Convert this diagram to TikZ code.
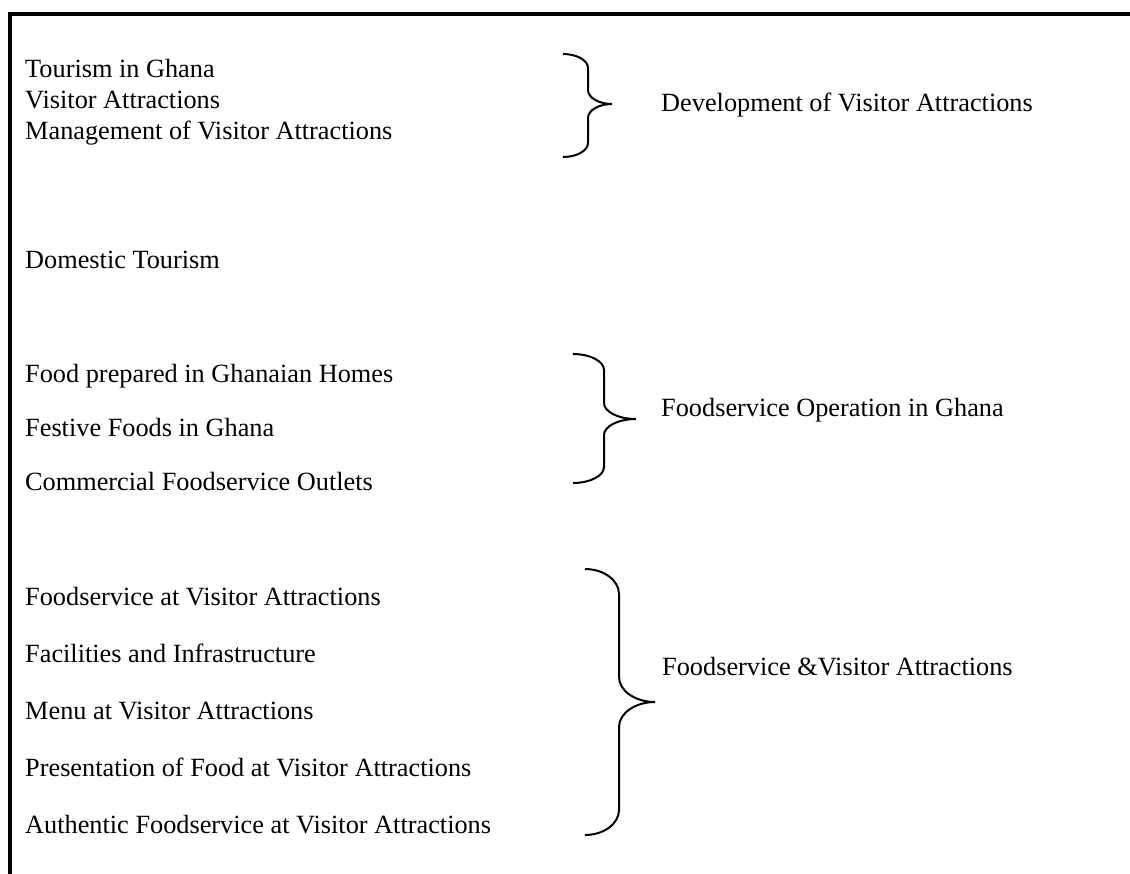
\documentclass[tikz,border=0pt]{standalone}
\usepackage{fontspec}
\setmainfont{Liberation Serif}
% curly brace: left end x, spine x, tip x, top y, middle y, bottom y, bend size
\newcommand\groupbrace[7]{%
  \draw[bracestroke] (#1,#4)
    .. controls ({#1+0.55*(#2-#1)},#4) and (#2,{#4+0.45*#7}) .. (#2,#4+#7)
    -- (#2,#5-#7)
    .. controls (#2,{#5-0.45*#7}) and ({#3-0.55*(#3-#2)},#5) .. (#3,#5)
    .. controls ({#3-0.55*(#3-#2)},#5) and (#2,{#5+0.45*#7}) .. (#2,#5+#7)
    -- (#2,#6-#7)
    .. controls (#2,{#6-0.45*#7}) and ({#1+0.55*(#2-#1)},#6) .. (#1,#6);}
\begin{document}
\begin{tikzpicture}[x=1pt,y=-1pt,
  item/.style={anchor=base west, inner sep=0pt, font=\fontsize{26.3}{30}\selectfont},
  frameline/.style={line width=4pt, line cap=rect},
  bracestroke/.style={line width=2pt}]
\useasboundingbox (0,0) rectangle (1130,873);
\draw[frameline] (10,880) -- (10,14) -- (1135,14);

% first group
\node[item] (t1) at (25,77)  {Tourism in Ghana};
\node[item] (t2) at (25,108) {Visitor Attractions};
\node[item] (t3) at (25,139) {Management of Visitor Attractions};
\groupbrace{563}{588}{612}{54}{104}{157}{14}
\node[item] (g1) at (661,111) {Development of Visitor Attractions};

\node[item] (dt) at (25,268) {Domestic Tourism};

% second group
\node[item] (f1) at (25,382) {Food prepared in Ghanaian Homes};
\node[item] (f2) at (25,436) {Festive Foods in Ghana};
\node[item] (f3) at (25,490) {Commercial Foodservice Outlets};
\groupbrace{573}{604}{636}{354}{419}{483}{16}
\node[item] (g2) at (661,416) {Foodservice Operation in Ghana};

% third group
\node[item] (v1) at (25,605) {Foodservice at Visitor Attractions};
\node[item] (v2) at (25,662) {Facilities and Infrastructure};
\node[item] (v3) at (25,719) {Menu at Visitor Attractions};
\node[item] (v4) at (25,776) {Presentation of Food at Visitor Attractions};
\node[item] (v5) at (25,833) {Authentic Foodservice at Visitor Attractions};
\groupbrace{585}{619}{655}{569}{702}{835}{25}
\node[item] (g3) at (662,675) {Foodservice \&Visitor Attractions};
\end{tikzpicture}
\end{document}
